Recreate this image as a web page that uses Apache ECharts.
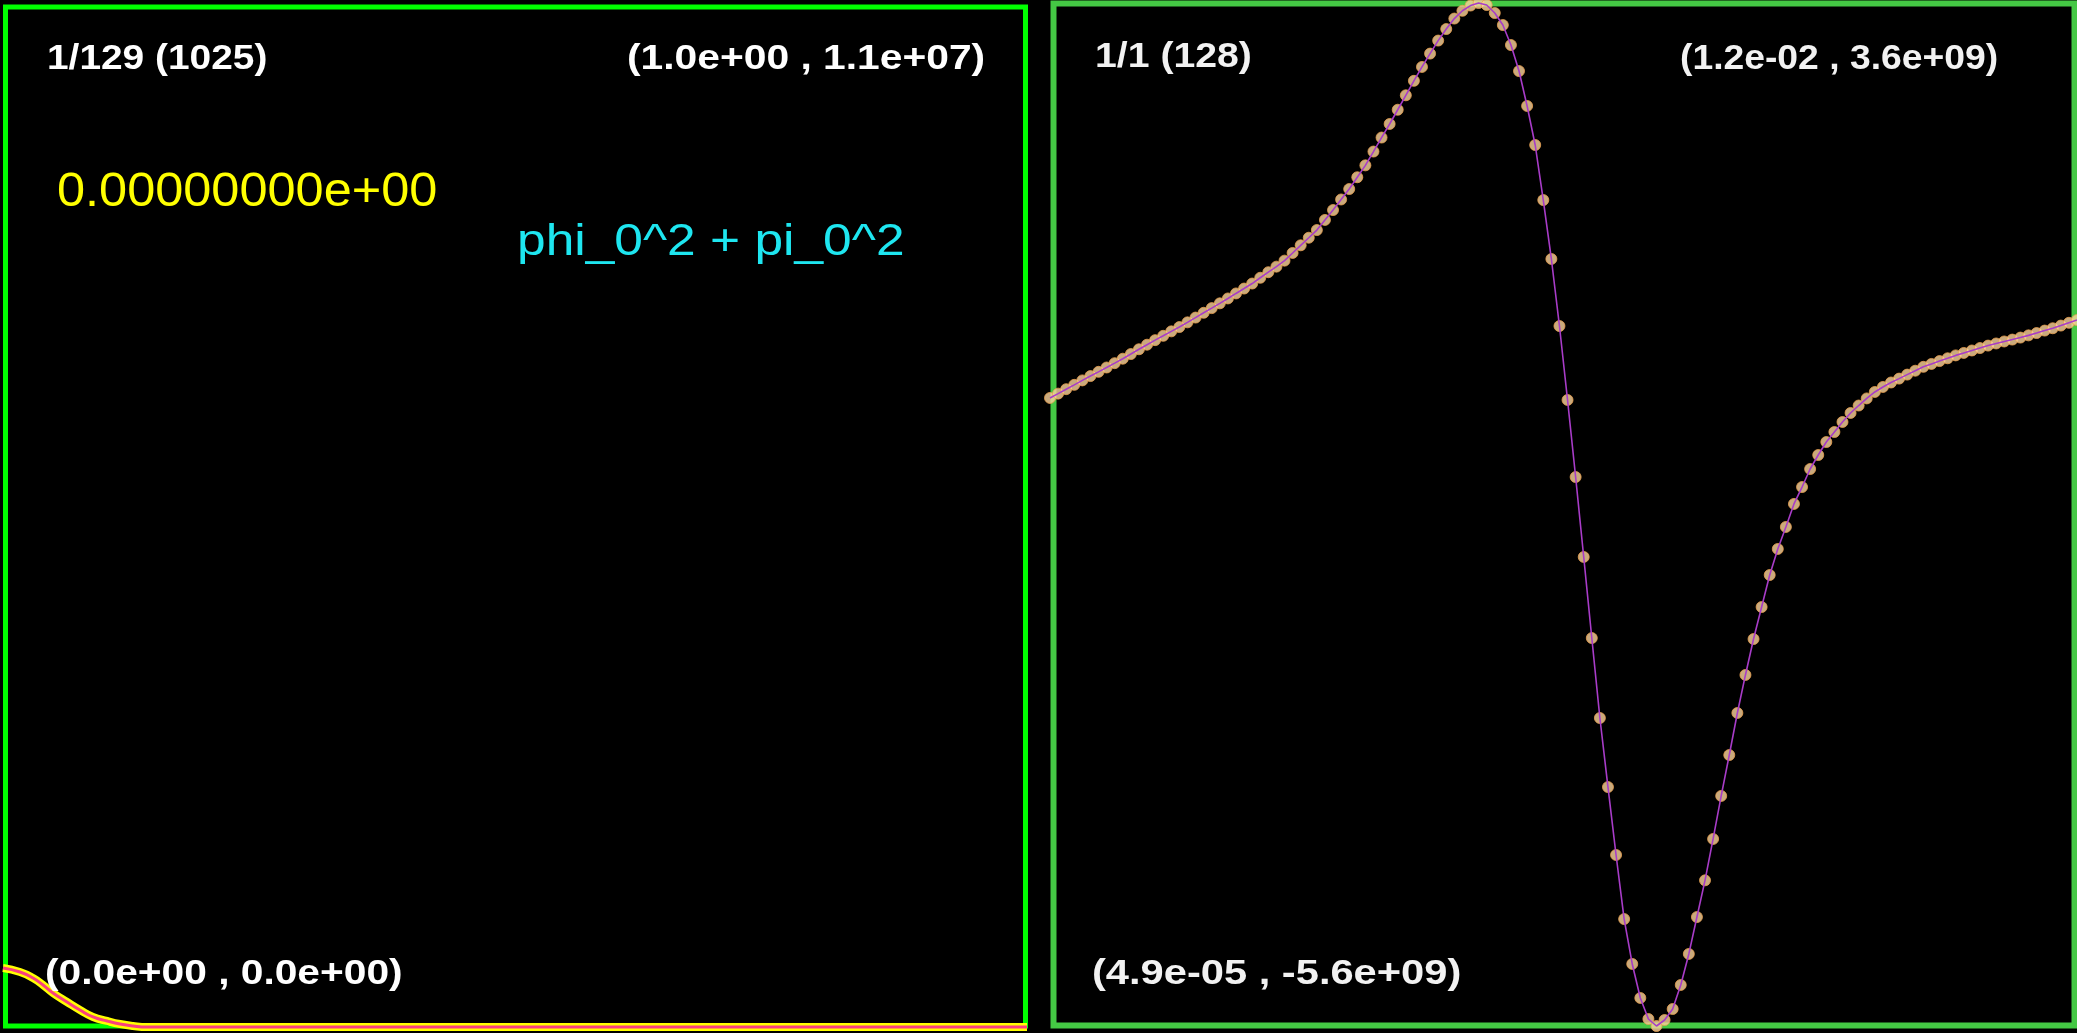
<!DOCTYPE html>
<html>
<head>
<meta charset="utf-8">
<title>phi_0^2 + pi_0^2</title>
<script src="https://cdn.jsdelivr.net/npm/echarts@6/dist/echarts.min.js"></script>
<style>
  html, body { margin: 0; padding: 0; background: #000; overflow: hidden; }
  #chart { width: 2077px; height: 1033px; }
</style>
</head>
<body>
<div id="chart"></div>
<script>
// left panel: phi_0^2 + pi_0^2 on [0, 1], only the bump near x = 0 leaves the floor
const energyX = [0, 0.0166, 0.0293, 0.0391, 0.0488, 0.0625, 0.0752, 0.0879, 0.1016, 0.1143, 0.127, 0.1406, 1.0];
const energyY = [6.35e5, 5.92e5, 5.27e5, 4.52e5, 3.66e5, 2.69e5, 1.83e5, 1.08e5, 0.65e5, 0.32e5, 0.11e5, 0, 0];
const energyRange = { xMin: 0, xMax: 1.0, yMin: 0, yMax: 1.1e7 };

// right panel: 128 samples, cell centred grid, values in units of 1e9
const N_CELLS = 128;
const CELL = 0.0125 / N_CELLS;
const fieldY = [
  0.048, 0.087, 0.127, 0.166, 0.206, 0.245, 0.283, 0.322, 0.361, 0.401,
  0.443, 0.486, 0.527, 0.568, 0.607, 0.647, 0.686, 0.728, 0.771, 0.814,
  0.856, 0.899, 0.943, 0.988, 1.032, 1.077, 1.129, 1.179, 1.229, 1.283,
  1.352, 1.421, 1.489, 1.558, 1.649, 1.738, 1.833, 1.927, 2.033, 2.140,
  2.264, 2.390, 2.512, 2.640, 2.770, 2.900, 3.025, 3.145, 3.262, 3.366,
  3.460, 3.530, 3.577, 3.600, 3.582, 3.510, 3.402, 3.222, 2.988, 2.674,
  2.323, 1.828, 1.298, 0.695, 0.030, -0.663, -1.382, -2.111, -2.830, -3.451,
  -4.062, -4.638, -5.042, -5.348, -5.537, -5.600, -5.546, -5.447, -5.231, -4.952,
  -4.620, -4.290, -3.918, -3.531, -3.163, -2.785, -2.443, -2.120, -1.832, -1.544,
  -1.310, -1.112, -0.905, -0.753, -0.591, -0.465, -0.348, -0.258, -0.168, -0.087,
  -0.020, 0.044, 0.102, 0.147, 0.187, 0.222, 0.258, 0.293, 0.328, 0.354,
  0.380, 0.405, 0.431, 0.453, 0.475, 0.497, 0.519, 0.538, 0.556, 0.573,
  0.591, 0.611, 0.632, 0.654, 0.675, 0.699, 0.724, 0.749
];
const fieldX = fieldY.map((_, i) => (i + 0.5) * CELL);
const fieldRange = { yMin: -5.6, yMax: 3.6 };

// panel labels
const leftLabels = {
  step: '1/129 (1025)',
  maxCorner: '(1.0e+00 , 1.1e+07)',
  minCorner: '(0.0e+00 , 0.0e+00)',
  time: '0.00000000e+00',
  name: 'phi_0^2 + pi_0^2',
};
const rightLabels = {
  step: '1/1 (128)',
  maxCorner: '(1.2e-02 , 3.6e+09)',
  minCorner: '(4.9e-05 , -5.6e+09)',
};

const WHITE_FONT = 'bold 35px "Liberation Sans", Arial, sans-serif';

const label = (text, x, y, scaleX, font, fill) => ({
  type: 'text',
  x,
  y,
  scaleX,
  z: 100,
  style: {
    text,
    font,
    fill,
    textAlign: 'left',
    textVerticalAlign: 'middle',
  },
});

const hiddenAxis = (gridIndex, min, max) => ({
  type: 'value',
  gridIndex,
  min,
  max,
  show: false,
  splitLine: { show: false },
});

const chart = echarts.init(document.getElementById('chart'));

chart.setOption({
  backgroundColor: '#000000',
  animation: false,
  grid: [
    { left: 3, top: 5, width: 1024, height: 1022 },
    { left: 1050, top: 3, width: 1027, height: 1023 },
  ],
  xAxis: [
    hiddenAxis(0, energyRange.xMin, energyRange.xMax),
    hiddenAxis(1, fieldX[0], fieldX[fieldX.length - 1]),
  ],
  yAxis: [
    hiddenAxis(0, energyRange.yMin, energyRange.yMax),
    hiddenAxis(1, fieldRange.yMin, fieldRange.yMax),
  ],
  graphic: [
    {
      type: 'rect',
      z: 0,
      shape: { x: 5.5, y: 7, width: 1020, height: 1019 },
      style: { fill: 'none', stroke: '#00ff00', lineWidth: 5 },
    },
    {
      type: 'rect',
      z: 0,
      shape: { x: 1053.5, y: 3.5, width: 1021, height: 1022 },
      style: { fill: 'none', stroke: '#44c844', lineWidth: 6 },
    },
    label(leftLabels.step, 47, 59.5, 1.11, WHITE_FONT, '#ffffff'),
    label(leftLabels.maxCorner, 627, 59, 1.165, WHITE_FONT, '#ffffff'),
    label(leftLabels.minCorner, 45, 974.5, 1.163, WHITE_FONT, '#ffffff'),
    label(leftLabels.time, 57, 192.5, 1.03, '49px "Liberation Sans", Arial, sans-serif', '#ffff00'),
    label(leftLabels.name, 517, 242.5, 1.17, '44px "Liberation Sans", Arial, sans-serif', '#1ee6f0'),
    label(rightLabels.step, 1095, 57, 1.12, WHITE_FONT, '#f2f2f2'),
    label(rightLabels.maxCorner, 1680, 59, 1.065, WHITE_FONT, '#f2f2f2'),
    label(rightLabels.minCorner, 1092, 974.5, 1.19, WHITE_FONT, '#f2f2f2'),
  ],
  series: [
    {
      name: 'energy halo',
      type: 'line',
      xAxisIndex: 0,
      yAxisIndex: 0,
      data: energyX.map((x, i) => [x, energyY[i]]),
      smooth: true,
      showSymbol: false,
      clip: false,
      z: 3,
      lineStyle: { color: '#ffff00', width: 8 },
    },
    {
      name: 'energy',
      type: 'line',
      xAxisIndex: 0,
      yAxisIndex: 0,
      data: energyX.map((x, i) => [x, energyY[i]]),
      smooth: true,
      showSymbol: false,
      clip: false,
      z: 4,
      lineStyle: { color: '#f8407e', width: 3 },
    },
    {
      name: 'field points',
      type: 'scatter',
      xAxisIndex: 1,
      yAxisIndex: 1,
      data: fieldX.map((x, i) => [x, fieldY[i]]),
      symbol: 'circle',
      symbolSize: 11,
      clip: false,
      z: 3,
      itemStyle: { color: '#fcd49c', borderColor: '#e8a050', borderWidth: 1 },
    },
    {
      name: 'field',
      type: 'line',
      xAxisIndex: 1,
      yAxisIndex: 1,
      data: fieldX.map((x, i) => [x, fieldY[i]]),
      showSymbol: false,
      clip: false,
      z: 4,
      lineStyle: { color: '#a83cc8', width: 1.6 },
    },
  ],
});

window.addEventListener('resize', () => chart.resize());
</script>
</body>
</html>
